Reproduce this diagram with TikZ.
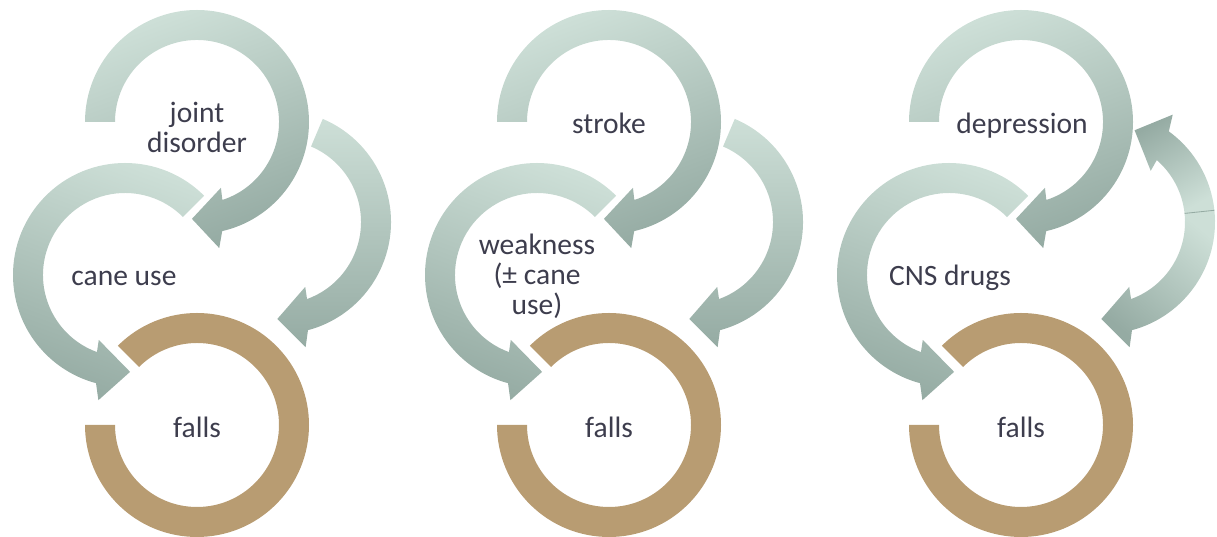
\documentclass[tikz,border=0pt]{standalone}
\usepackage{fontspec}
\setmainfont{Carlito}
\usepackage{xcolor}
\usepackage{tikz}
\usetikzlibrary{
    calc
}
\definecolor{arrowlight}{HTML}{CDDFD7}
\definecolor{arrowdark}{HTML}{95ABA3}
\definecolor{fallsbrown}{HTML}{B89C72}
\definecolor{txtgray}{HTML}{3D3D4D}
\tikzstyle{txt} = [
    text=txtgray,
    align=center,
    inner sep=0pt,
    font=\fontsize{21}{21.3}\selectfont
]
\tikzstyle{fallsring} = [
    fill=fallsbrown
]
\tikzstyle{arrowbody} = [
    top color=arrowlight,
    bottom color=arrowdark
]
% ring arrow: centre, tail angle, head base angle, tip angle, shading
\newcommand{\ringarrow}[5]{%
    \pgfmathsetmacro\arSg{(#4>#3)*2-1}
    \pgfmathsetmacro\arBo{#3+2*\arSg}
    \pgfmathsetmacro\arBi{#3-3*\arSg}
    \pgfmathsetmacro\arHo{#3+5*\arSg}
    \pgfmathsetmacro\arHi{#3-5*\arSg}
    \shade[#5] ($(#1)+(#2:112)$) arc[start angle=#2, end angle=\arBo, radius=112]
        -- ($(#1)+(\arHo:128)$) -- ($(#1)+(#4:97)$) -- ($(#1)+(\arHi:70)$)
        -- ($(#1)+(\arBi:82)$) arc[start angle=\arBi, end angle=#2, radius=82] -- cycle;
}

\begin{document}
\begin{tikzpicture}[
        x=0.025cm, y=0.025cm
    ]
    \useasboundingbox (0,0) rectangle (1217,537);
    \foreach \dx/\n in {0/1, 412/2, 824/3} {
        \coordinate (A\n) at (197+\dx,415);
        \coordinate (B\n) at (125+\dx,262);
        \coordinate (C\n) at (197+\dx,112);
        \coordinate (D\n) at (279+\dx,315);
        \fill[fallsring] ($(C\n)+(135:112)$) arc[start angle=135, end angle=-180, radius=112]
            -- ($(C\n)+(180:82)$) arc[start angle=-180, end angle=135, radius=82] -- cycle;
        \ringarrow{A\n}{180}{-75}{-93}{arrowbody, shading angle=20}
        \ringarrow{B\n}{45}{253}{273}{arrowbody, shading angle=-20}
        \node[txt] (falls\n) at (197+\dx,110) {falls};
    }
    \ringarrow{D1}{67}{-73}{-91}{arrowbody, shading angle=0}
    \ringarrow{D2}{67}{-73}{-91}{arrowbody, shading angle=0}
    \ringarrow{D3}{6}{52}{71}{arrowbody, top color=arrowdark, bottom color=arrowlight, shading angle=30}
    \ringarrow{D3}{6}{-73}{-91}{arrowbody, shading angle=-40}
    \draw[arrowdark, line width=0.6pt] ($(D3)+(6:82)$) -- ($(D3)+(6:112)$);

    \node[txt] (joint) at (197,410) {joint\\disorder};
    \node[txt] (cane) at (124,259) {cane use};
    \node[txt] (stroke) at (609,414) {stroke};
    \node[txt] (weak) at (537,261) {weakness\\(± cane\\use)};
    \node[txt] (depr) at (1022,411) {depression};
    \node[txt] (cns) at (950,259) {CNS drugs};
\end{tikzpicture}
\end{document}
